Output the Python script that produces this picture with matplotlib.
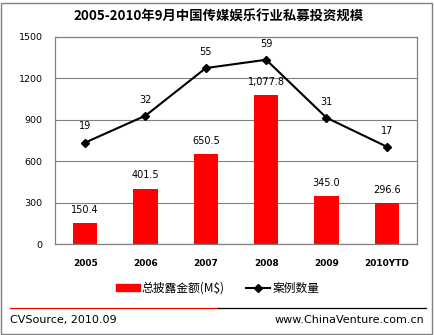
import matplotlib
matplotlib.use("Agg")
import matplotlib.pyplot as plt
from matplotlib.lines import Line2D
from matplotlib.patches import Rectangle, Patch

years = ["2005", "2006", "2007", "2008", "2009", "2010YTD"]
amount = [150.4, 401.5, 650.5, 1077.8, 345.0, 296.6]   # 总披露金额 (M$)
deals = [19, 32, 55, 59, 31, 17]                       # 案例数量

CJK = ["Noto Sans CJK SC", "DejaVu Sans"]
RED = "#FF0000"
GRID = "#808080"
W, H = 435, 335

fig = plt.figure(figsize=(W / 100, H / 100), dpi=100)
ax = fig.add_axes([55 / W, 1 - 244 / H, 362 / W, 207 / H])
x = list(range(len(years)))

ax.bar(x, amount, width=0.4, color=RED, zorder=2)
for xi, v in zip(x, amount):
    ax.annotate(f"{v:,.1f}", (xi, v), xytext=(0, 6), textcoords="offset points",
                ha="center", va="bottom", fontsize=7, family="DejaVu Sans")
ax.set_xlim(-0.5, len(years) - 0.5)
ax.set_ylim(0, 1500)
ax.set_yticks(range(0, 1501, 300))
ax.yaxis.grid(True, color=GRID, lw=0.8, zorder=0)
ax.set_axisbelow(True)
for s in ax.spines.values():
    s.set_color(GRID)
    s.set_linewidth(0.9)
ax.tick_params(length=0, labelsize=6.8, colors="black")
ax.tick_params(axis="y", pad=9)
ax.tick_params(axis="x", pad=11)
ax.set_xticks(x)
ax.set_xticklabels(years, fontweight="bold", fontsize=6.5)

# case counts on a hidden secondary scale
ax2 = ax.twinx()
ax2.plot(x, deals, color="black", lw=1.5, marker="D", ms=4.5, zorder=3)
for xi, n in zip(x, deals):
    ax2.annotate(str(n), (xi, n), xytext=(0, 8), textcoords="offset points",
                 ha="center", va="bottom", fontsize=7, family="DejaVu Sans")
ax2.set_ylim(-30, 70)
ax2.set_yticks([])
for s in ax2.spines.values():
    s.set_visible(False)

fig.text(219 / W, 1 - 17 / H, "2005-2010年9月中国传媒娱乐行业私募投资规模",
         ha="center", va="center", fontsize=9.6, fontweight="bold", family=CJK)

handles = [Patch(color=RED),
           Line2D([], [], color="black", lw=1.5, marker="D", ms=4)]
fig.legend(handles, ["总披露金额(M$)", "案例数量"], loc="center",
           bbox_to_anchor=(0.5, 1 - 288 / H), ncol=2, frameon=False,
           prop={"family": CJK, "size": 8.5}, handlelength=2.0,
           handleheight=0.6, handletextpad=0.2, columnspacing=1.8)

# footer
fig.add_artist(Line2D([10 / W, 218 / W], [1 - 308 / H] * 2, color=RED, lw=0.9))
fig.add_artist(Line2D([218 / W, 426 / W], [1 - 308 / H] * 2, color="black", lw=0.9))
fig.text(10 / W, 1 - 320 / H, "CVSource, 2010.09", ha="left", va="center",
         fontsize=8, family="DejaVu Sans")
fig.text(424 / W, 1 - 320 / H, "www.ChinaVenture.com.cn", ha="right", va="center",
         fontsize=8, family="DejaVu Sans")

# outer frame
fig.add_artist(Rectangle((1.5 / W, 1.5 / H), 431 / W, 331 / H, transform=fig.transFigure,
                         fill=False, edgecolor=GRID, lw=1.0))

fig.savefig("out.png", dpi=100)
